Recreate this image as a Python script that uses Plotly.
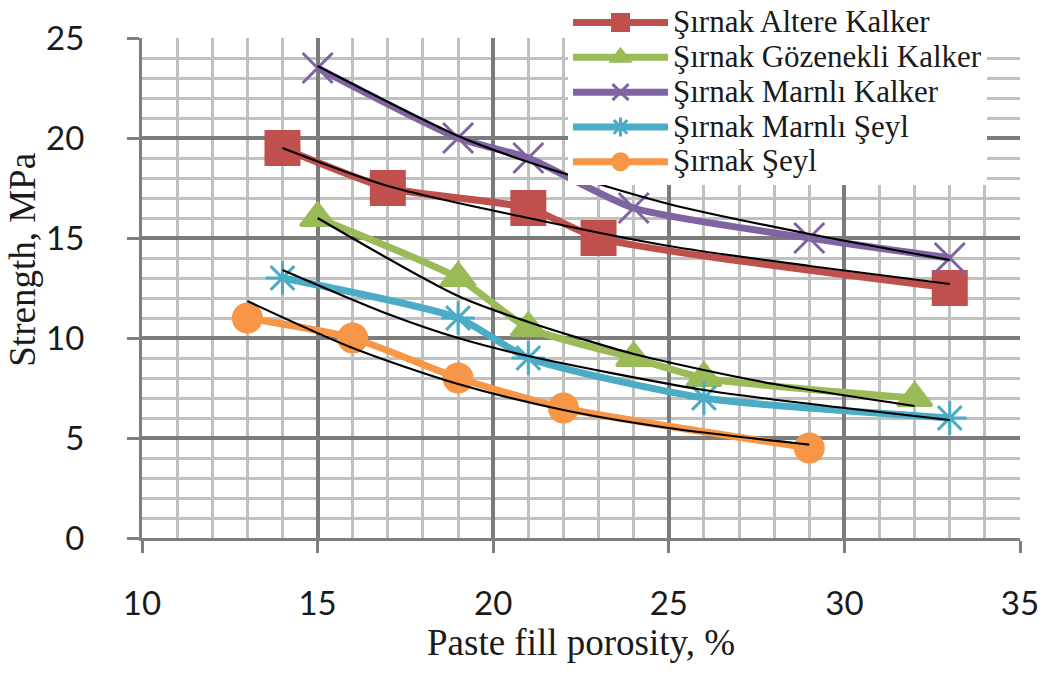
import plotly.graph_objects as go

# ---- data ----
names = ["Şırnak Altere Kalker", "Şırnak Gözenekli Kalker", "Şırnak Marnlı Kalker",
         "Şırnak Marnlı Şeyl", "Şırnak Şeyl"]

altere_x = [14, 17, 21, 23, 33]
altere_y = [19.5, 17.5, 16.5, 15.0, 12.5]
gozenekli_x = [15, 19, 21, 24, 26, 32]
gozenekli_y = [16.0, 13.0, 10.5, 9.0, 8.0, 7.0]
marnli_kalker_x = [15, 19, 21, 24, 29, 33]
marnli_kalker_y = [23.5, 20.0, 19.0, 16.5, 15.0, 14.0]
marnli_seyl_x = [14, 19, 21, 26, 33]
marnli_seyl_y = [13.0, 11.0, 9.0, 7.0, 6.0]
seyl_x = [13, 16, 19, 22, 29]
seyl_y = [11.0, 10.0, 8.0, 6.5, 4.5]

# black trend curves
altere_trend_x = [14, 17, 21, 25, 29, 33]
altere_trend_y = [19.5, 17.6, 16.0, 14.6, 13.6, 12.7]
gozenekli_trend_x = [15, 19, 21, 24, 26, 28, 32]
gozenekli_trend_y = [16.0, 12.1, 10.8, 9.2, 8.4, 7.7, 6.6]
marnli_kalker_trend_x = [15, 19, 21, 25, 29, 33]
marnli_kalker_trend_y = [23.6, 20.1, 18.8, 16.7, 15.2, 13.9]
marnli_seyl_trend_x = [14, 17, 19, 21, 26, 30, 33]
marnli_seyl_trend_y = [13.4, 11.2, 10.0, 9.1, 7.4, 6.5, 5.9]
seyl_trend_x = [13, 16, 19, 22, 25, 29]
seyl_trend_y = [11.85, 9.5, 7.7, 6.4, 5.5, 4.67]

x_ticks = [10, 15, 20, 25, 30, 35]
y_ticks = [0, 5, 10, 15, 20, 25]

x_title = "Paste fill porosity, %"
y_title = "Strength, MPa"

colors = ["#C0504D", "#9BBB59", "#8064A2", "#4BACC6", "#F79646"]
symbols = ["square", "triangle-up", "x-thin-open", "asterisk-open", "circle"]
msizes = [33, 30, 30, 28, 28]

series = [(altere_x, altere_y), (gozenekli_x, gozenekli_y),
          (marnli_kalker_x, marnli_kalker_y), (marnli_seyl_x, marnli_seyl_y),
          (seyl_x, seyl_y)]
trends = [(altere_trend_x, altere_trend_y), (gozenekli_trend_x, gozenekli_trend_y),
          (marnli_kalker_trend_x, marnli_kalker_trend_y),
          (marnli_seyl_trend_x, marnli_seyl_trend_y), (seyl_trend_x, seyl_trend_y)]

SERIF = "Liberation Serif"
legend_span = '<span style="font-size:31px">{}</span>'

fig = go.Figure()
for (xs, ys), name, c, s, ms in zip(series, names, colors, symbols, msizes):
    fig.add_trace(go.Scatter(
        x=xs, y=ys, name=legend_span.format(name),
        mode="lines+markers",
        line=dict(color=c, width=7, shape="spline", smoothing=0.6),
        marker=dict(symbol=s, size=ms, color=c, line=dict(color=c, width=3)),
    ))
for xs, ys in trends:
    fig.add_trace(go.Scatter(
        x=xs, y=ys, mode="lines", showlegend=False, hoverinfo="skip",
        line=dict(color="black", width=2.2, shape="spline", smoothing=0.8),
    ))

axis_common = dict(
    showline=True, linecolor="#7f7f7f", linewidth=3,
    ticks="outside", ticklen=12, tickwidth=3, tickcolor="#7f7f7f",
    showgrid=True, gridcolor="#7c7c7c", gridwidth=3.5,
    zeroline=False,
    tickfont=dict(family="Lato", size=33, color="#1a1a1a"),
)

fig.update_xaxes(
    range=[10, 35], tickvals=x_ticks, **axis_common,
    minor=dict(dtick=1, showgrid=True, gridcolor="#c0c0c0", gridwidth=3, ticks=""),
    title=dict(text=x_title,
               font=dict(family=SERIF, size=37, color="#1a1a1a"),
               standoff=0),
    ticklabelstandoff=22,
)
fig.update_yaxes(
    range=[0, 25], tickvals=y_ticks, **axis_common,
    minor=dict(dtick=1, showgrid=True, gridcolor="#c0c0c0", gridwidth=3, ticks=""),
    ticklabelstandoff=36,
)

fig.add_annotation(
    text=y_title, textangle=-90, showarrow=False,
    xref="paper", yref="paper", x=-0.137, y=0.556,
    xanchor="center", yanchor="middle",
    font=dict(family=SERIF, size=37, color="#1a1a1a"),
)

fig.update_layout(
    width=1048, height=682,
    margin=dict(l=142, r=28, t=38, b=144, autoexpand=False),
    paper_bgcolor="white", plot_bgcolor="white",
    showlegend=True,
    legend=dict(
        xref="container", yref="container",
        x=0.542, y=1.022, xanchor="left", yanchor="top",
        bgcolor="white", borderwidth=0,
        font=dict(family=SERIF, size=24.5, color="#1a1a1a"),
        itemwidth=95, tracegroupgap=0,
    ),
)

fig.write_html("out.html")
